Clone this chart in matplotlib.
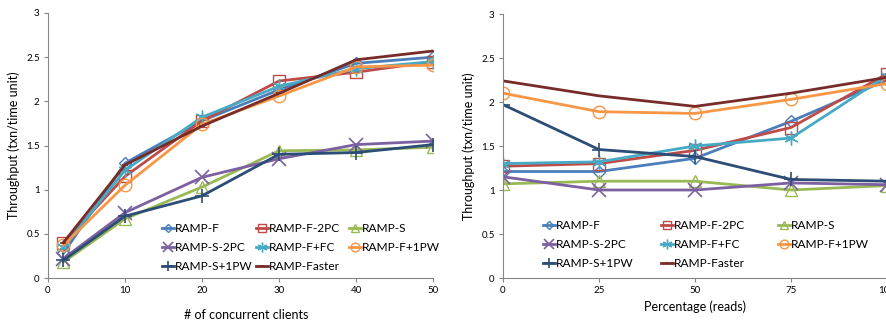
import matplotlib
matplotlib.use("Agg")
import matplotlib.pyplot as plt
from matplotlib.legend import Legend

plt.rcParams['font.family'] = ['Lato', 'DejaVu Sans']

series = ["RAMP-F", "RAMP-F-2PC", "RAMP-S", "RAMP-S-2PC",
          "RAMP-F+FC", "RAMP-F+1PW", "RAMP-S+1PW", "RAMP-Faster"]

clients = [2, 10, 20, 30, 40, 50]
left_ramp_f = [0.28, 1.30, 1.78, 2.13, 2.43, 2.50]
left_ramp_f_2pc = [0.40, 1.15, 1.78, 2.23, 2.33, 2.45]
left_ramp_s = [0.18, 0.67, 1.03, 1.44, 1.45, 1.48]
left_ramp_s_2pc = [0.22, 0.74, 1.14, 1.35, 1.51, 1.55]
left_ramp_f_fc = [0.35, 1.22, 1.82, 2.17, 2.37, 2.45]
left_ramp_f_1pw = [0.37, 1.05, 1.74, 2.06, 2.39, 2.41]
left_ramp_s_1pw = [0.20, 0.70, 0.93, 1.40, 1.42, 1.51]
left_ramp_faster = [0.40, 1.28, 1.72, 2.09, 2.47, 2.57]

reads = [0, 25, 50, 75, 100]
right_ramp_f = [1.21, 1.21, 1.36, 1.78, 2.25]
right_ramp_f_2pc = [1.27, 1.30, 1.45, 1.71, 2.32]
right_ramp_s = [1.07, 1.10, 1.10, 1.00, 1.05]
right_ramp_s_2pc = [1.15, 1.00, 1.00, 1.08, 1.06]
right_ramp_f_fc = [1.30, 1.32, 1.50, 1.59, 2.30]
right_ramp_f_1pw = [2.10, 1.89, 1.87, 2.03, 2.21]
right_ramp_s_1pw = [1.97, 1.46, 1.38, 1.12, 1.10]
right_ramp_faster = [2.24, 2.07, 1.95, 2.10, 2.28]

left_data = [left_ramp_f, left_ramp_f_2pc, left_ramp_s, left_ramp_s_2pc,
             left_ramp_f_fc, left_ramp_f_1pw, left_ramp_s_1pw, left_ramp_faster]
right_data = [right_ramp_f, right_ramp_f_2pc, right_ramp_s, right_ramp_s_2pc,
              right_ramp_f_fc, right_ramp_f_1pw, right_ramp_s_1pw, right_ramp_faster]

colors = ["#4A7EBB", "#BE4B48", "#98B954", "#7D60A0",
          "#46AAC5", "#F79646", "#2C4D75", "#772C2A"]
markers = ["D", "s", "^", "x", "*", "o", "+", "_"]
msizes = [6, 8, 9, 10, 10, 9, 10, 5]

W, H = 887, 320
fig = plt.figure(figsize=(W / 100, H / 100), dpi=100)
ax1 = fig.add_axes([48 / W, 42 / H, 385 / W, 265 / H])
ax2 = fig.add_axes([503 / W, 42 / H, 384 / W, 264 / H])


def style(ax, xs, datas, xticks, xlim, xlabel, xlabelpad, col_x, row1_y):
    handles = []
    for d, c, m, ms, name in zip(datas, colors, markers, msizes, series):
        if m == "*":
            mk = dict(marker=(6, 2, 0), markersize=ms, markeredgewidth=1.0,
                      markerfacecolor='none', markeredgecolor=c)
        elif m in ("x", "+", "_"):
            mk = dict(marker=m, markersize=ms, markeredgewidth=1.2, markeredgecolor=c)
        else:
            mk = dict(marker=m, markersize=ms, markeredgewidth=1.0,
                      markerfacecolor='none', markeredgecolor=c)
        h, = ax.plot(xs, d, color=c, linewidth=2, label=name, **mk)
        handles.append(h)
    ax.set_xlim(*xlim)
    ax.set_ylim(0, 3)
    ax.set_xticks(xticks)
    ax.set_yticks([0, 0.5, 1, 1.5, 2, 2.5, 3])
    ax.set_yticklabels(["0", "0.5", "1", "1.5", "2", "2.5", "3"])
    for s in ("top", "right"):
        ax.spines[s].set_visible(False)
    for s in ("left", "bottom"):
        ax.spines[s].set_color("#868686")
        ax.spines[s].set_linewidth(0.8)
    ax.tick_params(axis='both', direction='out', length=3, width=0.8,
                   color="#868686", labelsize=7, labelcolor="#000000", pad=3)
    ax.set_xlabel(xlabel, fontsize=9, labelpad=xlabelpad)
    ax.set_ylabel("Throughput (txn/time unit)", fontsize=9, labelpad=4)
    # legend laid out row by row, one legend per column
    cols = [[0, 3, 6], [1, 4, 7], [2, 5]]
    for cx, idxs in zip(col_x, cols):
        leg = Legend(ax, [handles[i] for i in idxs], [series[i] for i in idxs],
                     loc="upper left",
                     bbox_to_anchor=(cx / W, 1 - (row1_y - 5) / H),
                     bbox_transform=fig.transFigure,
                     frameon=False, fontsize=8.6, handlelength=1.0,
                     handletextpad=0.05, labelspacing=0.68, borderpad=0,
                     borderaxespad=0, markerscale=0.7)
        ax.add_artist(leg)


style(ax1, clients, left_data, [0, 10, 20, 30, 40, 50], (0, 50),
      "# of concurrent clients", 10, [162, 256, 349], 228)
style(ax2, reads, right_data, [0, 25, 50, 75, 100], (0, 100),
      "Percentage (reads)", 4, [543, 661, 778], 225)
ax1.xaxis.label.set_x(0.515)

fig.savefig("out.png", dpi=100)
